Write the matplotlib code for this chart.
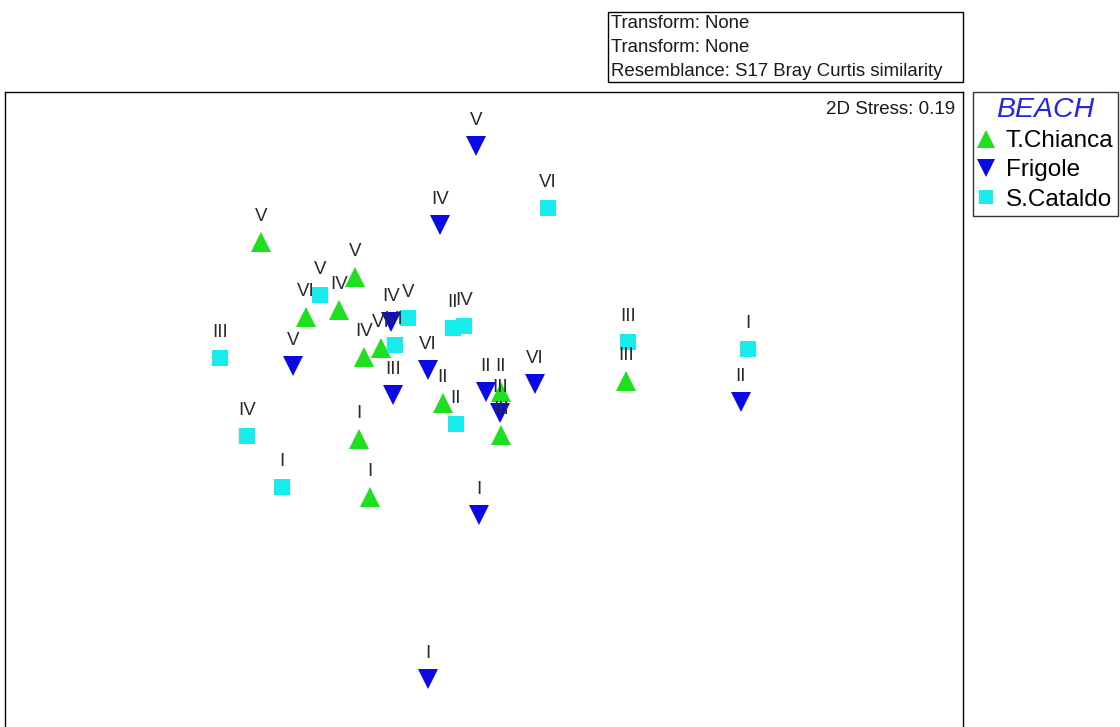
import matplotlib.pyplot as plt
from matplotlib.patches import Rectangle

plt.rcParams['font.family'] = ['Liberation Sans', 'DejaVu Sans']

# nMDS coordinates (arbitrary units) and sampling-period labels per beach
chianca_x = [-1.115, -0.645, -0.89, -0.725, -0.6, -0.515, 0.71, -0.205, 0.085, 0.085, -0.625, -0.57]
chianca_y = [0.79, 0.615, 0.415, 0.45, 0.215, 0.26, 0.095, -0.015, 0.04, -0.175, -0.195, -0.485]
chianca_lab = ['V', 'V', 'VI', 'IV', 'IV', 'VI', 'III', 'II', 'II', 'III', 'I', 'I']

frigole_x = [-0.04, -0.22, -0.465, -0.955, -0.455, -0.28, 0.01, 0.08, 0.255, 1.285, -0.025, -0.28]
frigole_y = [1.27, 0.875, 0.39, 0.17, 0.025, 0.15, 0.04, -0.065, 0.08, -0.01, -0.575, -1.395]
frigole_lab = ['V', 'IV', 'IV', 'V', 'III', 'VI', 'II', 'III', 'VI', 'II', 'I', 'I']

cataldo_x = [0.32, -0.82, -0.38, -0.445, -1.32, -1.185, -1.01, -0.155, -0.1, 0.72, 1.32, -0.14]
cataldo_y = [0.96, 0.525, 0.41, 0.275, 0.21, -0.18, -0.435, 0.36, 0.37, 0.29, 0.255, -0.12]
cataldo_lab = ['VI', 'V', 'V', 'VI', 'III', 'IV', 'I', 'II', 'IV', 'III', 'I', 'II']

W, H = 1120, 727
fig = plt.figure(figsize=(W / 100, H / 100), dpi=100)

# axes box runs past the bottom of the image, as in the original export
ax = fig.add_axes([5 / W, (727 - 760) / H, 958 / W, 668 / H])
ax.set_xlim(-2.395, 2.395)
ax.set_ylim(-1.8, 1.54)
ax.set_xticks([])
ax.set_yticks([])
for s in ax.spines.values():
    s.set_linewidth(1.0)
    s.set_color('black')

groups = [
    ('T.Chianca', chianca_x, chianca_y, chianca_lab, '^', '#1fe01f', 14),
    ('Frigole', frigole_x, frigole_y, frigole_lab, 'v', '#0a0ae6', 14),
    ('S.Cataldo', cataldo_x, cataldo_y, cataldo_lab, 's', '#18ecec', 11),
]

handles = []
for name, xs, ys, labs, mk, col, ms in groups:
    h, = ax.plot(xs, ys, linestyle='none', marker=mk, markersize=ms,
                 color=col, markeredgewidth=0, label=name, zorder=3)
    handles.append(h)
    for x, y, t in zip(xs, ys, labs):
        ax.annotate(t, (x, y), xytext=(0, 18.5), textcoords='offset points',
                    ha='center', va='center', fontsize=13.5, color='#2a2a2a', zorder=4)

ax.text(0.9916, 0.986, '2D Stress: 0.19', transform=ax.transAxes,
        ha='right', va='top', fontsize=13.5, color='#1a1a1a')

# info box at the top
fig.patches.append(Rectangle((608 / W, 1 - 82 / H), 355 / W, 70 / H,
                             transform=fig.transFigure, fill=False,
                             edgecolor='black', linewidth=1.0))
for i, line in enumerate(['Transform: None', 'Transform: None',
                          'Resemblance: S17 Bray Curtis similarity']):
    fig.text(611 / W, 1 - (23 + 24 * i) / H, line, ha='left', va='center',
             fontsize=13.4, color='#1a1a1a')

leg = fig.legend(handles=handles, loc='upper left',
                 bbox_to_anchor=(973 / W, 1 - 92 / H), borderaxespad=0,
                 fontsize=17.5, frameon=True, fancybox=False, edgecolor='black',
                 handlelength=0.7, handletextpad=0.45, borderpad=0.2,
                 labelspacing=0.3, markerscale=0.95)
leg.get_frame().set_linewidth(1.0)
leg.set_title('BEACH', prop={'style': 'italic', 'size': 20.5})
leg.get_title().set_color('#2424e6')

fig.savefig('out.png', dpi=100)
